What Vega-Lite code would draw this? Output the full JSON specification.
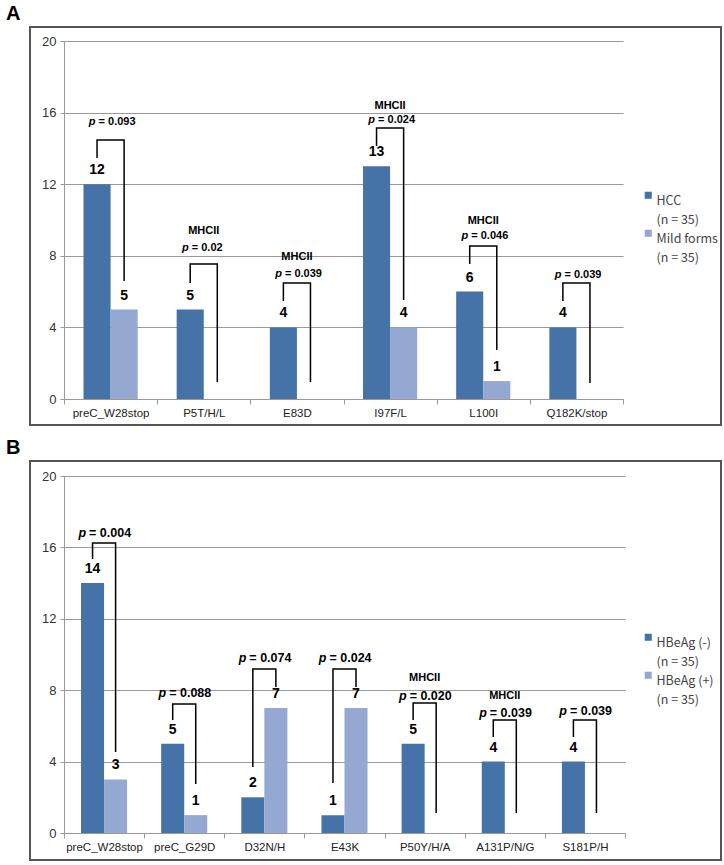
{
  "$schema": "https://vega.github.io/schema/vega-lite/v6.json",
  "background": "white",
  "padding": {"left": 5, "top": 3, "right": 0, "bottom": 0},
  "spacing": 11,
  "config": {"view": {"stroke": "#555555", "strokeWidth": 2}, "font": "Liberation Sans"},
  "datasets": {
    "barsA": [
      {"cat": "preC_W28stop", "group": "HCC", "value": 12}, {"cat": "preC_W28stop", "group": "Mild forms", "value": 5},
      {"cat": "P5T/H/L", "group": "HCC", "value": 5}, {"cat": "P5T/H/L", "group": "Mild forms", "value": 0},
      {"cat": "E83D", "group": "HCC", "value": 4}, {"cat": "E83D", "group": "Mild forms", "value": 0},
      {"cat": "I97F/L", "group": "HCC", "value": 13}, {"cat": "I97F/L", "group": "Mild forms", "value": 4},
      {"cat": "L100I", "group": "HCC", "value": 6}, {"cat": "L100I", "group": "Mild forms", "value": 1},
      {"cat": "Q182K/stop", "group": "HCC", "value": 4}, {"cat": "Q182K/stop", "group": "Mild forms", "value": 0}
    ],
    "bracketsA": [
      {"cat": "preC_W28stop", "group": "HCC", "y": 13.46, "ord": 0}, {"cat": "preC_W28stop", "group": "HCC", "y": 14.47, "ord": 1},
      {"cat": "preC_W28stop", "group": "Mild forms", "y": 14.47, "ord": 2}, {"cat": "preC_W28stop", "group": "Mild forms", "y": 6.59, "ord": 3},
      {"cat": "P5T/H/L", "group": "HCC", "y": 6.48, "ord": 0}, {"cat": "P5T/H/L", "group": "HCC", "y": 7.54, "ord": 1},
      {"cat": "P5T/H/L", "group": "Mild forms", "y": 7.54, "ord": 2}, {"cat": "P5T/H/L", "group": "Mild forms", "y": 0.95, "ord": 3},
      {"cat": "E83D", "group": "HCC", "y": 5.47, "ord": 0}, {"cat": "E83D", "group": "HCC", "y": 6.48, "ord": 1},
      {"cat": "E83D", "group": "Mild forms", "y": 6.48, "ord": 2}, {"cat": "E83D", "group": "Mild forms", "y": 0.95, "ord": 3},
      {"cat": "I97F/L", "group": "HCC", "y": 14.13, "ord": 0}, {"cat": "I97F/L", "group": "HCC", "y": 15.14, "ord": 1},
      {"cat": "I97F/L", "group": "Mild forms", "y": 15.14, "ord": 2}, {"cat": "I97F/L", "group": "Mild forms", "y": 5.53, "ord": 3},
      {"cat": "L100I", "group": "HCC", "y": 7.54, "ord": 0}, {"cat": "L100I", "group": "HCC", "y": 8.55, "ord": 1},
      {"cat": "L100I", "group": "Mild forms", "y": 8.55, "ord": 2}, {"cat": "L100I", "group": "Mild forms", "y": 2.74, "ord": 3},
      {"cat": "Q182K/stop", "group": "HCC", "y": 5.47, "ord": 0}, {"cat": "Q182K/stop", "group": "HCC", "y": 6.48, "ord": 1},
      {"cat": "Q182K/stop", "group": "Mild forms", "y": 6.48, "ord": 2}, {"cat": "Q182K/stop", "group": "Mild forms", "y": 0.89, "ord": 3}
    ],
    "pA": [
      {"cat": "preC_W28stop", "p": "= 0.093", "py": 15.47},
      {"cat": "P5T/H/L", "p": "= 0.02", "py": 8.44},
      {"cat": "E83D", "p": "= 0.039", "py": 6.98},
      {"cat": "I97F/L", "p": "= 0.024", "py": 15.59},
      {"cat": "L100I", "p": "= 0.046", "py": 9.11},
      {"cat": "Q182K/stop", "p": "= 0.039", "py": 6.93}
    ],
    "mhcA": [
      {"cat": "P5T/H/L", "label": "MHCII", "my": 9.39},
      {"cat": "E83D", "label": "MHCII", "my": 7.93},
      {"cat": "I97F/L", "label": "MHCII", "my": 16.37},
      {"cat": "L100I", "label": "MHCII", "my": 9.94}
    ],
    "barsB": [
      {"cat": "preC_W28stop", "group": "HBeAg (-)", "value": 14}, {"cat": "preC_W28stop", "group": "HBeAg (+)", "value": 3},
      {"cat": "preC_G29D", "group": "HBeAg (-)", "value": 5}, {"cat": "preC_G29D", "group": "HBeAg (+)", "value": 1},
      {"cat": "D32N/H", "group": "HBeAg (-)", "value": 2}, {"cat": "D32N/H", "group": "HBeAg (+)", "value": 7},
      {"cat": "E43K", "group": "HBeAg (-)", "value": 1}, {"cat": "E43K", "group": "HBeAg (+)", "value": 7},
      {"cat": "P50Y/H/A", "group": "HBeAg (-)", "value": 5}, {"cat": "P50Y/H/A", "group": "HBeAg (+)", "value": 0},
      {"cat": "A131P/N/G", "group": "HBeAg (-)", "value": 4}, {"cat": "A131P/N/G", "group": "HBeAg (+)", "value": 0},
      {"cat": "S181P/H", "group": "HBeAg (-)", "value": 4}, {"cat": "S181P/H", "group": "HBeAg (+)", "value": 0}
    ],
    "bracketsB": [
      {"cat": "preC_W28stop", "group": "HBeAg (-)", "y": 15.35, "ord": 0}, {"cat": "preC_W28stop", "group": "HBeAg (-)", "y": 16.25, "ord": 1},
      {"cat": "preC_W28stop", "group": "HBeAg (+)", "y": 16.25, "ord": 2}, {"cat": "preC_W28stop", "group": "HBeAg (+)", "y": 4.54, "ord": 3},
      {"cat": "preC_G29D", "group": "HBeAg (-)", "y": 6.33, "ord": 0}, {"cat": "preC_G29D", "group": "HBeAg (-)", "y": 7.23, "ord": 1},
      {"cat": "preC_G29D", "group": "HBeAg (+)", "y": 7.23, "ord": 2}, {"cat": "preC_G29D", "group": "HBeAg (+)", "y": 2.75, "ord": 3},
      {"cat": "D32N/H", "group": "HBeAg (-)", "y": 3.7, "ord": 0}, {"cat": "D32N/H", "group": "HBeAg (-)", "y": 9.19, "ord": 1},
      {"cat": "D32N/H", "group": "HBeAg (+)", "y": 9.19, "ord": 2}, {"cat": "D32N/H", "group": "HBeAg (+)", "y": 8.18, "ord": 3},
      {"cat": "E43K", "group": "HBeAg (-)", "y": 2.8, "ord": 0}, {"cat": "E43K", "group": "HBeAg (-)", "y": 9.19, "ord": 1},
      {"cat": "E43K", "group": "HBeAg (+)", "y": 9.19, "ord": 2}, {"cat": "E43K", "group": "HBeAg (+)", "y": 8.18, "ord": 3},
      {"cat": "P50Y/H/A", "group": "HBeAg (-)", "y": 6.33, "ord": 0}, {"cat": "P50Y/H/A", "group": "HBeAg (-)", "y": 7.28, "ord": 1},
      {"cat": "P50Y/H/A", "group": "HBeAg (+)", "y": 7.28, "ord": 2}, {"cat": "P50Y/H/A", "group": "HBeAg (+)", "y": 1.12, "ord": 3},
      {"cat": "A131P/N/G", "group": "HBeAg (-)", "y": 5.38, "ord": 0}, {"cat": "A131P/N/G", "group": "HBeAg (-)", "y": 6.33, "ord": 1},
      {"cat": "A131P/N/G", "group": "HBeAg (+)", "y": 6.33, "ord": 2}, {"cat": "A131P/N/G", "group": "HBeAg (+)", "y": 1.12, "ord": 3},
      {"cat": "S181P/H", "group": "HBeAg (-)", "y": 5.38, "ord": 0}, {"cat": "S181P/H", "group": "HBeAg (-)", "y": 6.33, "ord": 1},
      {"cat": "S181P/H", "group": "HBeAg (+)", "y": 6.33, "ord": 2}, {"cat": "S181P/H", "group": "HBeAg (+)", "y": 1.12, "ord": 3}
    ],
    "pB": [
      {"cat": "preC_W28stop", "p": "= 0.004", "py": 16.81},
      {"cat": "preC_G29D", "p": "= 0.088", "py": 7.84},
      {"cat": "D32N/H", "p": "= 0.074", "py": 9.8},
      {"cat": "E43K", "p": "= 0.024", "py": 9.8},
      {"cat": "P50Y/H/A", "p": "= 0.020", "py": 7.68},
      {"cat": "A131P/N/G", "p": "= 0.039", "py": 6.72},
      {"cat": "S181P/H", "p": "= 0.039", "py": 6.83}
    ],
    "mhcB": [
      {"cat": "P50Y/H/A", "label": "MHCII", "my": 8.68},
      {"cat": "A131P/N/G", "label": "MHCII", "my": 7.68}
    ]
  },
  "resolve": {"scale": {"x": "independent", "y": "independent", "xOffset": "independent", "color": "independent"}, "legend": {"color": "independent"}},
  "vconcat": [
    {
      "width": 691,
      "height": 398,
      "title": {"text": "A", "anchor": "start", "dx": -24, "fontSize": 20, "fontWeight": "bold", "font": "Liberation Sans", "color": "#000000", "offset": 3},
      "layer": [
        {
          "data": {"name": "barsA"},
          "mark": {"type": "bar"},
          "encoding": {
            "x": {"field": "cat", "type": "nominal", "scale": {"domain": ["preC_W28stop", "P5T/H/L", "E83D", "I97F/L", "L100I", "Q182K/stop"], "range": [34, 593], "paddingInner": 0, "paddingOuter": 0},
              "axis": {"title": null, "offset": -26, "tickBand": "extent", "domainColor": "#999999", "tickColor": "#999999", "tickSize": 5, "labelAngle": 0, "labelFontSize": 11.5, "labelColor": "#222222", "labelPadding": 3, "grid": false, "labelFont": "Liberation Sans"}},
            "xOffset": {"field": "group", "type": "nominal", "scale": {"domain": ["HCC", "Mild forms"], "paddingOuter": 0.72, "paddingInner": 0}},
            "y": {"field": "value", "type": "quantitative", "scale": {"domain": [0, 20], "range": [372, 14]},
              "axis": {"title": null, "values": [0, 4, 8, 12, 16, 20], "offset": -34, "grid": true, "gridColor": "#9a9a9a", "domainColor": "#9a9a9a", "tickColor": "#9a9a9a", "tickSize": 4, "labelPadding": 4, "labelFontSize": 13, "labelColor": "#333333", "labelFont": "Liberation Sans"}},
            "color": {"field": "group", "type": "nominal", "scale": {"domain": ["HCC", "Mild forms"], "range": ["#4572A7", "#94A8D1"]},
              "legend": {"orient": "none", "legendX": 612, "legendY": 162, "title": null, "symbolType": "square", "symbolSize": 50, "symbolStrokeWidth": 0, "labelFont": "Noto Sans CJK KR", "labelFontSize": 12.5, "labelColor": "#444444", "labelExpr": "[datum.label, '(n = 35)']", "rowPadding": -5, "labelBaseline": "top", "labelOffset": 2, "encode": {"labels": {"update": {"lineHeight": {"value": 19}}}}}}
          }
        },
        {
          "data": {"name": "barsA"},
          "transform": [{"filter": "datum.value > 0"}],
          "mark": {"type": "text", "baseline": "alphabetic", "dy": -10, "fontSize": 14, "fontWeight": "bold", "color": "#000000"},
          "encoding": {
            "x": {"field": "cat", "type": "nominal"},
            "xOffset": {"field": "group", "type": "nominal"},
            "y": {"field": "value", "type": "quantitative"},
            "text": {"field": "value", "type": "quantitative"}
          }
        },
        {
          "data": {"name": "bracketsA"},
          "mark": {"type": "line", "color": "#000000", "strokeWidth": 1.5, "strokeJoin": "miter"},
          "encoding": {
            "x": {"field": "cat", "type": "nominal"},
            "xOffset": {"field": "group", "type": "nominal"},
            "y": {"field": "y", "type": "quantitative"},
            "detail": {"field": "cat", "type": "nominal"},
            "order": {"field": "ord", "type": "quantitative"}
          }
        },
        {
          "data": {"name": "pA"},
          "mark": {"type": "text", "align": "right", "baseline": "middle", "dx": -15, "fontSize": 11, "fontWeight": "bold", "fontStyle": "italic", "color": "#000000"},
          "encoding": {
            "x": {"field": "cat", "type": "nominal"},
            "y": {"field": "py", "type": "quantitative"},
            "text": {"value": "p"}
          }
        },
        {
          "data": {"name": "pA"},
          "mark": {"type": "text", "align": "left", "baseline": "middle", "dx": -12, "fontSize": 11, "fontWeight": "bold", "color": "#000000"},
          "encoding": {
            "x": {"field": "cat", "type": "nominal"},
            "y": {"field": "py", "type": "quantitative"},
            "text": {"field": "p", "type": "nominal"}
          }
        },
        {
          "data": {"name": "mhcA"},
          "mark": {"type": "text", "align": "center", "baseline": "middle", "fontSize": 11, "fontWeight": "bold", "color": "#000000"},
          "encoding": {
            "x": {"field": "cat", "type": "nominal"},
            "y": {"field": "my", "type": "quantitative"},
            "text": {"field": "label", "type": "nominal"}
          }
        }
      ]
    },
    {
      "width": 691,
      "height": 399,
      "title": {"text": "B", "anchor": "start", "dx": -24, "fontSize": 20, "fontWeight": "bold", "font": "Liberation Sans", "color": "#000000", "offset": 3},
      "layer": [
        {
          "data": {"name": "barsB"},
          "mark": {"type": "bar"},
          "encoding": {
            "x": {"field": "cat", "type": "nominal", "scale": {"domain": ["preC_W28stop", "preC_G29D", "D32N/H", "E43K", "P50Y/H/A", "A131P/N/G", "S181P/H"], "range": [34, 595], "paddingInner": 0, "paddingOuter": 0},
              "axis": {"title": null, "offset": -27, "tickBand": "extent", "domainColor": "#999999", "tickColor": "#999999", "tickSize": 5, "labelAngle": 0, "labelFontSize": 11.5, "labelColor": "#222222", "labelPadding": 3, "grid": false, "labelFont": "Liberation Sans"}},
            "xOffset": {"field": "group", "type": "nominal", "scale": {"domain": ["HBeAg (-)", "HBeAg (+)"], "paddingOuter": 0.74, "paddingInner": 0}},
            "y": {"field": "value", "type": "quantitative", "scale": {"domain": [0, 20], "range": [372, 15]},
              "axis": {"title": null, "values": [0, 4, 8, 12, 16, 20], "offset": -34, "grid": true, "gridColor": "#9a9a9a", "domainColor": "#9a9a9a", "tickColor": "#9a9a9a", "tickSize": 4, "labelPadding": 4, "labelFontSize": 13, "labelColor": "#333333", "labelFont": "Liberation Sans"}},
            "color": {"field": "group", "type": "nominal", "scale": {"domain": ["HBeAg (-)", "HBeAg (+)"], "range": ["#4572A7", "#94A8D1"]},
              "legend": {"orient": "none", "legendX": 612, "legendY": 170, "title": null, "symbolType": "square", "symbolSize": 50, "symbolStrokeWidth": 0, "labelFont": "Noto Sans CJK KR", "labelFontSize": 12.5, "labelColor": "#444444", "labelExpr": "[datum.label, '(n = 35)']", "rowPadding": -5, "labelBaseline": "top", "labelOffset": 2, "encode": {"labels": {"update": {"lineHeight": {"value": 19}}}}}}
          }
        },
        {
          "data": {"name": "barsB"},
          "transform": [{"filter": "datum.value > 0"}],
          "mark": {"type": "text", "baseline": "alphabetic", "dy": -10, "fontSize": 14, "fontWeight": "bold", "color": "#000000"},
          "encoding": {
            "x": {"field": "cat", "type": "nominal"},
            "xOffset": {"field": "group", "type": "nominal"},
            "y": {"field": "value", "type": "quantitative"},
            "text": {"field": "value", "type": "quantitative"}
          }
        },
        {
          "data": {"name": "bracketsB"},
          "mark": {"type": "line", "color": "#000000", "strokeWidth": 1.5, "strokeJoin": "miter"},
          "encoding": {
            "x": {"field": "cat", "type": "nominal"},
            "xOffset": {"field": "group", "type": "nominal"},
            "y": {"field": "y", "type": "quantitative"},
            "detail": {"field": "cat", "type": "nominal"},
            "order": {"field": "ord", "type": "quantitative"}
          }
        },
        {
          "data": {"name": "pB"},
          "mark": {"type": "text", "align": "right", "baseline": "middle", "dx": -18, "fontSize": 12.5, "fontWeight": "bold", "fontStyle": "italic", "color": "#000000"},
          "encoding": {
            "x": {"field": "cat", "type": "nominal"},
            "y": {"field": "py", "type": "quantitative"},
            "text": {"value": "p"}
          }
        },
        {
          "data": {"name": "pB"},
          "mark": {"type": "text", "align": "left", "baseline": "middle", "dx": -15, "fontSize": 12.5, "fontWeight": "bold", "color": "#000000"},
          "encoding": {
            "x": {"field": "cat", "type": "nominal"},
            "y": {"field": "py", "type": "quantitative"},
            "text": {"field": "p", "type": "nominal"}
          }
        },
        {
          "data": {"name": "mhcB"},
          "mark": {"type": "text", "align": "center", "baseline": "middle", "fontSize": 11, "fontWeight": "bold", "color": "#000000"},
          "encoding": {
            "x": {"field": "cat", "type": "nominal"},
            "y": {"field": "my", "type": "quantitative"},
            "text": {"field": "label", "type": "nominal"}
          }
        }
      ]
    }
  ]
}
